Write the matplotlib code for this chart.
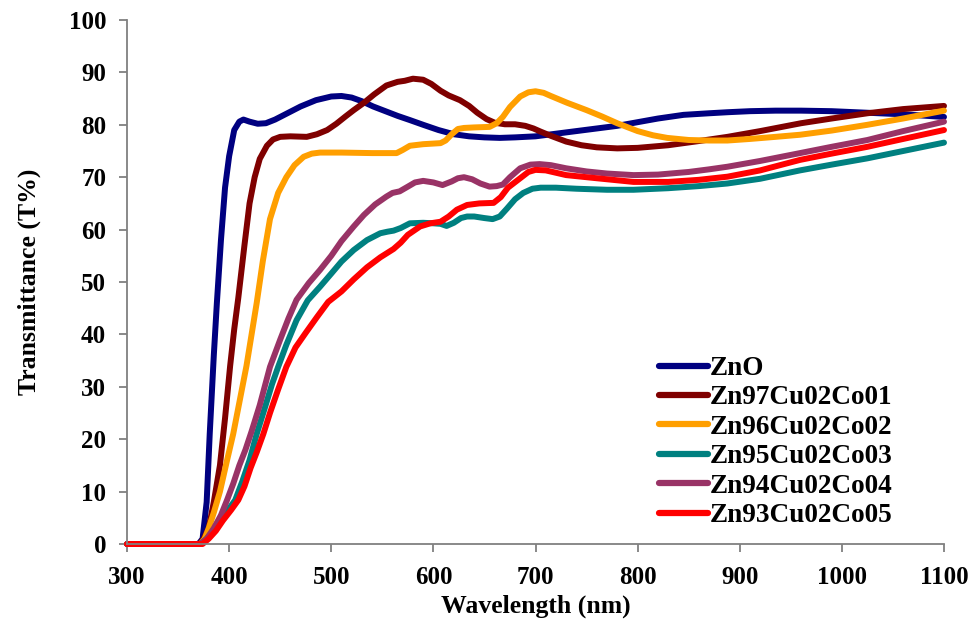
import matplotlib
matplotlib.use("Agg")
import matplotlib.pyplot as plt

# ---- data ----
labels = ["ZnO", "Zn97Cu02Co01", "Zn96Cu02Co02", "Zn95Cu02Co03", "Zn94Cu02Co04", "Zn93Cu02Co05"]
colors = ["#000080", "#7F0000", "#FF9F00", "#008080", "#993366", "#FF0000"]

zno_x = [300, 370, 374, 378, 381, 385, 388, 392, 396, 400, 405, 410, 414, 420, 428, 436, 445, 455, 470, 485,
         500, 510, 520, 530, 541, 553, 565, 577, 590, 605, 620, 635, 650, 665, 680, 700, 720, 740, 760, 780,
         800, 820, 845, 870, 888, 910, 935, 960, 990, 1025, 1060, 1100]
zno_y = [0, 0, 1, 8, 21, 36, 46, 58, 68, 74, 79, 80.6, 81, 80.6, 80.2, 80.3, 81, 82, 83.5, 84.7,
         85.4, 85.5, 85.2, 84.5, 83.5, 82.6, 81.7, 80.9, 80, 79, 78.2, 77.8, 77.6, 77.5, 77.6, 77.8, 78.3, 78.8, 79.3, 79.8,
         80.5, 81.2, 81.9, 82.2, 82.4, 82.6, 82.7, 82.7, 82.6, 82.3, 82, 81.5]

c01_x = [300, 371, 375, 380, 385, 391, 396, 401, 405, 409, 415, 420, 425, 430, 437, 443, 450, 460, 476, 486,
         496, 505, 514, 522, 532, 542, 554, 565, 572, 580, 590, 598, 607, 615, 626, 635, 643, 652, 660, 670,
         680, 690, 698, 705, 715, 730, 745, 760, 780, 800, 830, 860, 888, 920, 960, 990, 1025, 1060, 1100]
c01_y = [0, 0, 1, 3, 8, 15, 24, 34, 41, 47, 57, 65, 70, 73.5, 76, 77.2, 77.7, 77.8, 77.7, 78.2,
         79, 80.2, 81.6, 82.8, 84.2, 85.8, 87.5, 88.2, 88.4, 88.8, 88.6, 87.8, 86.5, 85.6, 84.7, 83.6, 82.3, 81.1, 80.4, 80.1,
         80.1, 79.8, 79.3, 78.7, 77.9, 76.8, 76.1, 75.7, 75.5, 75.6, 76.1, 76.9, 77.7, 78.8, 80.3, 81.2, 82.2, 83, 83.6]

c02_x = [300, 372, 376, 380, 385, 391, 398, 404, 410, 417, 422, 427, 433, 440, 448, 456, 464, 473, 481, 489,
         510, 540, 564, 570, 577, 590, 607, 612, 618, 624, 630, 640, 655, 662, 668, 675, 685, 693, 700, 708,
         715, 731, 750, 765, 780, 800, 815, 829, 850, 870, 888, 910, 935, 959, 990, 1025, 1060, 1100]
c02_y = [0, 0, 1, 3, 6, 10, 16, 21, 27, 34, 40, 46, 54, 62, 67, 70, 72.3, 73.9, 74.5, 74.7,
         74.7, 74.6, 74.6, 75.2, 76, 76.3, 76.5, 77, 78.2, 79.2, 79.4, 79.5, 79.6, 80.3, 81.5, 83.4, 85.4, 86.2, 86.4, 86.1,
         85.5, 84.2, 82.8, 81.6, 80.3, 78.8, 78, 77.5, 77.1, 77, 77, 77.3, 77.7, 78.1, 78.9, 80, 81.2, 82.7]

c03_x = [300, 372, 378, 385, 392, 399, 406, 413, 420, 427, 435, 442, 448, 456, 466, 477, 489, 500, 510, 522,
         535, 548, 555, 561, 568, 577, 590, 600, 607, 613, 620, 627, 633, 640, 650, 658, 665, 672, 680, 688,
         697, 705, 720, 740, 770, 796, 830, 860, 888, 920, 959, 990, 1025, 1060, 1100]
c03_y = [0, 0, 1, 2.5, 4.5, 6.5, 8.4, 12, 16, 21, 26, 30.5, 33.8, 38, 42.7, 46.5, 49.1, 51.6, 53.9, 56.1,
         58, 59.3, 59.6, 59.8, 60.3, 61.2, 61.3, 61.2, 61.1, 60.7, 61.3, 62.2, 62.5, 62.5, 62.2, 62, 62.5, 64, 65.8, 67,
         67.8, 68, 68, 67.8, 67.6, 67.6, 67.9, 68.3, 68.8, 69.7, 71.3, 72.4, 73.6, 75, 76.6]

c04_x = [300, 372, 378, 385, 392, 398, 404, 410, 416, 422, 430, 440, 450, 458, 466, 478, 489, 500, 510, 522,
         532, 543, 554, 560, 567, 575, 582, 590, 600, 609, 618, 624, 630, 638, 646, 655, 662, 668, 675, 685,
         695, 704, 715, 730, 750, 770, 796, 820, 850, 870, 888, 920, 959, 990, 1025, 1060, 1100]
c04_y = [0, 0, 1, 3, 5.5, 8.4, 11.5, 15, 18, 21.5, 26.5, 33.8, 39, 43, 46.6, 49.8, 52.3, 55, 57.8, 60.6,
         62.8, 64.8, 66.3, 67, 67.3, 68.2, 69, 69.3, 69, 68.5, 69.2, 69.8, 70, 69.6, 68.8, 68.2, 68.3, 68.6, 70, 71.7,
         72.4, 72.5, 72.3, 71.7, 71.1, 70.7, 70.4, 70.5, 71, 71.5, 72, 73.1, 74.6, 75.8, 77.1, 78.8, 80.6]

c05_x = [300, 374, 380, 387, 394, 402, 409, 415, 421, 427, 433.5, 440, 448, 456, 465, 475, 486, 497, 510, 522,
         535, 548, 561, 568, 575, 587, 597, 607, 615, 623, 633, 645, 659, 666, 673, 685, 693, 700, 710, 730,
         760, 796, 830, 860, 888, 920, 959, 990, 1025, 1060, 1100]
c05_y = [0, 0, 1, 2.5, 4.5, 6.5, 8.4, 11, 14.5, 17.5, 21, 25, 29.5, 33.8, 37.5, 40.3, 43.3, 46.2, 48.2, 50.5,
         52.8, 54.7, 56.3, 57.5, 59, 60.6, 61.2, 61.5, 62.5, 63.8, 64.7, 65, 65.1, 66.2, 68, 69.8, 71, 71.4, 71.3, 70.4,
         69.8, 69.1, 69.1, 69.5, 70.1, 71.3, 73.3, 74.5, 75.8, 77.3, 79]

series_x = [zno_x, c01_x, c02_x, c03_x, c04_x, c05_x]
series_y = [zno_y, c01_y, c02_y, c03_y, c04_y, c05_y]

x_ticks = [300, 400, 500, 600, 700, 800, 900, 1000, 1100]
y_ticks = [0, 10, 20, 30, 40, 50, 60, 70, 80, 90, 100]

# ---- figure ----
plt.rcParams['font.family'] = ['Liberation Serif', 'DejaVu Serif']
plt.rcParams['font.weight'] = 'bold'

fig = plt.figure(figsize=(9.73, 6.24), dpi=100)
ax = fig.add_axes([127/973, 80/624, (944-127)/973, (544-20)/624])

for xs, ys, c, lab in zip(series_x, series_y, colors, labels):
    ax.plot(xs, ys, color=c, lw=4.3, label=lab, solid_capstyle='round',
            solid_joinstyle='round', clip_on=False)

ax.set_xlim(300, 1100)
ax.set_ylim(0, 100)
ax.set_xticks(x_ticks)
ax.set_yticks(y_ticks)
ax.set_xticklabels([str(v) for v in x_ticks], fontsize=18, fontweight='bold')
ax.set_yticklabels([str(v) for v in y_ticks], fontsize=18, fontweight='bold')

gray = '#808080'
for s in ['top', 'right']:
    ax.spines[s].set_visible(False)
for s in ['left', 'bottom']:
    ax.spines[s].set_color(gray)
    ax.spines[s].set_linewidth(1.3)
ax.tick_params(axis='both', direction='out', length=6, width=1.3, color=gray)
ax.tick_params(axis='x', pad=10)
ax.tick_params(axis='y', pad=9)

ax.set_xlabel("Wavelength (nm)", fontsize=18.5, fontweight='bold', labelpad=4)
ax.set_ylabel("Transmittance (T%)", fontsize=18.5, fontweight='bold', labelpad=20)

leg = fig.legend(loc='upper left', bbox_to_anchor=(659/973, 1 - 356/624), frameon=False,
                 handlelength=1.8, handletextpad=0.05, labelspacing=0.16,
                 borderpad=0, borderaxespad=0, prop={'weight': 'bold', 'size': 19.6})
for h in leg.get_lines():
    h.set_linewidth(4.5)

fig.savefig("out.png", dpi=100)
